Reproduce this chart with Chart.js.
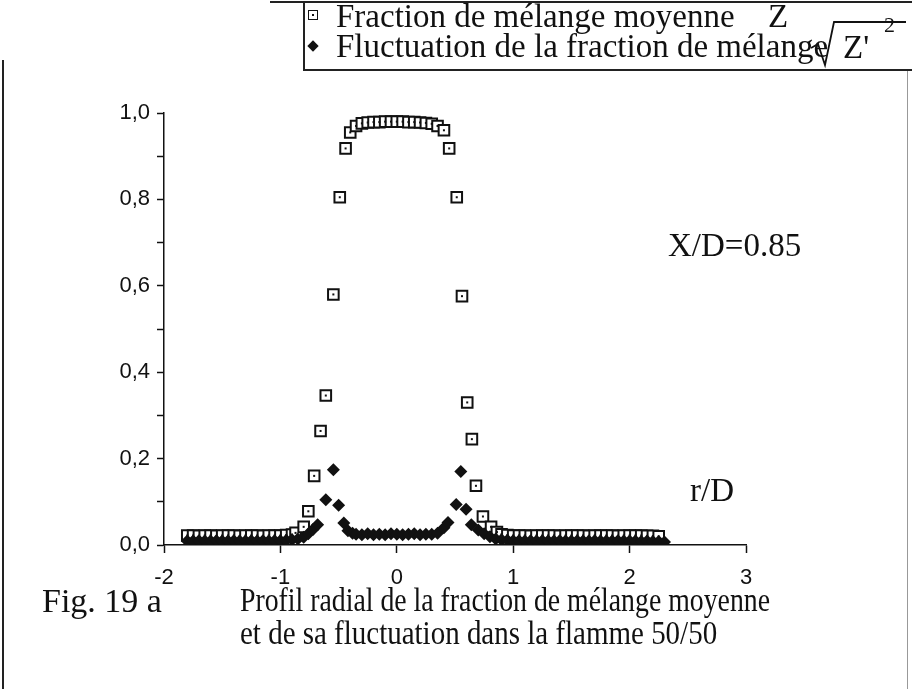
<!DOCTYPE html>
<html>
<head>
<meta charset="utf-8">
<script src="https://cdn.jsdelivr.net/npm/chart.js@4.4.1/dist/chart.umd.min.js"></script>
<style>
html, body { margin: 0; padding: 0; background: #fff; }
#wrap { position: relative; width: 912px; height: 689px; overflow: hidden;
        font-family: "Liberation Serif", "Times New Roman", serif; color: #111; }
#c { position: absolute; left: 0; top: 0; }
.t { position: absolute; white-space: nowrap; font-size: 33px; line-height: 1; }
.ln { position: absolute; background: #222; }
.sq { position: absolute; width: 8px; height: 8px; border: 1.8px solid #111; background: #fff; }
.sq:after { content: ""; position: absolute; left: 3px; top: 3px; width: 2px; height: 2px; background: #111; }
.dm { position: absolute; width: 8px; height: 8px; background: #111; transform: rotate(45deg); }
</style>
</head>
<body>
<div id="wrap">
  <canvas id="c" width="912" height="689"></canvas>

  <!-- frame and legend box -->
  <div class="ln" style="left:270px;top:1px;width:642px;height:2px"></div>
  <div class="ln" style="left:303px;top:1px;width:2px;height:70px"></div>
  <div class="ln" style="left:303px;top:69px;width:609px;height:2px"></div>
  <div class="ln" style="left:2px;top:60px;width:2px;height:629px"></div>
  <div class="ln" style="left:907px;top:71px;width:1px;height:618px;background:#999"></div>

  <!-- legend -->
  <div class="sq" style="left:308px;top:10px"></div>
  <div class="t" style="left:336px;top:0px">Fraction de mélange moyenne</div>
  <div class="t" style="left:768px;top:0px">Z</div>
  <div class="dm" style="left:309px;top:42px"></div>
  <div class="t" style="left:336px;top:30px">Fluctuation de la fraction de mélange</div>
  <svg style="position:absolute;left:0;top:0" width="912" height="80">
    <polyline points="811,48 818,44 825,65 834,22 906,22" fill="none" stroke="#111" stroke-width="1.8"/>
  </svg>
  <div class="t" style="left:843px;top:31px">Z'</div>
  <div class="t" style="left:884px;top:14px;font-size:22px">2</div>

  <!-- annotations -->
  <div class="t" style="left:668px;top:229px">X/D=0.85</div>
  <div class="t" style="left:690px;top:474px">r/D</div>

  <!-- caption -->
  <div class="t" style="left:42px;top:584px;font-size:34px">Fig. 19 a</div>
  <div class="t" style="left:240px;top:584px;transform:scaleX(0.842);transform-origin:0 0">Profil radial de la fraction de mélange moyenne</div>
  <div class="t" style="left:240px;top:617px;transform:scaleX(0.878);transform-origin:0 0">et de sa fluctuation dans la flamme 50/50</div>
</div>

<script>
// mean mixture fraction Z (open squares)
var zX = [-1.80, -1.75, -1.70, -1.65, -1.60, -1.55, -1.50, -1.45, -1.40, -1.35,
          -1.30, -1.25, -1.20, -1.15, -1.10, -1.05, -1.00, -0.95, -0.90,
          -0.87, -0.80, -0.76, -0.71, -0.655, -0.61, -0.545, -0.49, -0.44, -0.40, -0.35,
          -0.30, -0.25, -0.20, -0.15, -0.10, -0.05, 0.00, 0.05, 0.10, 0.15, 0.20, 0.25, 0.30,
          0.35, 0.405, 0.45, 0.515, 0.56, 0.605, 0.645, 0.68, 0.74, 0.81, 0.86,
          0.90, 0.95, 1.00, 1.05, 1.10, 1.15, 1.20, 1.25, 1.30, 1.35, 1.40, 1.45, 1.50, 1.55,
          1.60, 1.65, 1.70, 1.75, 1.80, 1.85, 1.90, 1.95, 2.00, 2.05, 2.10, 2.15, 2.20, 2.25];
var zY = [0.022, 0.022, 0.021, 0.022, 0.022, 0.021, 0.022, 0.022, 0.022, 0.021,
          0.022, 0.022, 0.022, 0.021, 0.022, 0.022, 0.022, 0.023, 0.024,
          0.028, 0.042, 0.078, 0.160, 0.264, 0.346, 0.580, 0.805, 0.918, 0.955, 0.970,
          0.976, 0.978, 0.979, 0.979, 0.980, 0.980, 0.980, 0.980, 0.979, 0.979, 0.978, 0.977, 0.975,
          0.970, 0.960, 0.918, 0.805, 0.576, 0.330, 0.245, 0.137, 0.066, 0.042, 0.030,
          0.025, 0.023, 0.022, 0.022, 0.022, 0.021, 0.022, 0.022, 0.022, 0.022, 0.021, 0.022, 0.022, 0.022,
          0.022, 0.021, 0.022, 0.022, 0.022, 0.022, 0.021, 0.022, 0.022, 0.022, 0.022, 0.021, 0.021, 0.020];

// rms fluctuation of Z (filled diamonds)
var fX = [-1.80, -1.75, -1.70, -1.65, -1.60, -1.55, -1.50, -1.45, -1.40, -1.35,
          -1.30, -1.25, -1.20, -1.15, -1.10, -1.05, -1.00, -0.95, -0.90,
          -0.85, -0.80, -0.76, -0.72, -0.68, -0.61, -0.545, -0.50, -0.455, -0.42, -0.38,
          -0.35, -0.30, -0.25, -0.20, -0.15, -0.10, -0.05, 0.00, 0.05, 0.10, 0.15, 0.20, 0.25, 0.30, 0.35,
          0.405, 0.44, 0.51, 0.55, 0.595, 0.64, 0.70, 0.75, 0.80, 0.85,
          0.90, 0.95, 1.00, 1.05, 1.10, 1.15, 1.20, 1.25, 1.30, 1.35, 1.40, 1.45, 1.50, 1.55,
          1.60, 1.65, 1.70, 1.75, 1.80, 1.85, 1.90, 1.95, 2.00, 2.05, 2.10, 2.15, 2.20, 2.25, 2.30];
var fY = [0.009, 0.009, 0.010, 0.009, 0.009, 0.010, 0.009, 0.009, 0.010, 0.009,
          0.009, 0.010, 0.009, 0.010, 0.009, 0.010, 0.010, 0.011, 0.012,
          0.014, 0.018, 0.026, 0.036, 0.047, 0.105, 0.174, 0.092, 0.051, 0.033, 0.027,
          0.025, 0.024, 0.026, 0.024, 0.025, 0.024, 0.026, 0.025, 0.024, 0.025, 0.026, 0.024, 0.025, 0.025, 0.027,
          0.040, 0.052, 0.094, 0.170, 0.083, 0.047, 0.035, 0.026, 0.019, 0.014,
          0.012, 0.011, 0.010, 0.010, 0.009, 0.010, 0.009, 0.010, 0.009, 0.009, 0.010, 0.009, 0.009, 0.010,
          0.009, 0.009, 0.010, 0.009, 0.009, 0.009, 0.010, 0.009, 0.009, 0.009, 0.008, 0.009, 0.008, 0.008, 0.007];

var yTicks = ['0,0', '0,2', '0,4', '0,6', '0,8', '1,0'];

function toPoints(xs, ys) {
  return xs.map(function (x, i) { return { x: x, y: ys[i] }; });
}

// little dot in the middle of each open square, like the original symbol
var centreDots = {
  id: 'centreDots',
  afterDatasetsDraw: function (chart) {
    var meta = chart.getDatasetMeta(1);
    var c = chart.ctx;
    c.save();
    c.fillStyle = '#111';
    meta.data.forEach(function (p) { c.fillRect(p.x - 1, p.y - 1, 2, 2); });
    c.restore();
  }
};

var ctx = document.getElementById('c');
var myChart = new Chart(ctx, {
  type: 'scatter',
  data: {
    datasets: [{
      label: 'Fluctuation de la fraction de mélange',
      data: toPoints(fX, fY),
      pointStyle: 'rectRot',
      pointRadius: 6.5,
      backgroundColor: '#111',
      borderColor: '#111',
      borderWidth: 0
    }, {
      label: 'Fraction de mélange moyenne Z',
      data: toPoints(zX, zY),
      pointStyle: 'rect',
      pointRadius: 7.5,
      backgroundColor: '#fff',
      borderColor: '#111',
      borderWidth: 2
    }]
  },
  options: {
    responsive: false,
    animation: false,
    layout: { padding: { left: 104, right: 166, top: 113, bottom: 104 } },
    plugins: { legend: { display: false }, tooltip: { enabled: false } },
    scales: {
      x: {
        type: 'linear', min: -2, max: 3,
        afterFit: function (s) { s.height = 40; },
        ticks: { stepSize: 1, color: '#111', padding: 12,
                 font: { family: 'Liberation Sans', size: 22 } },
        grid: { drawOnChartArea: false, tickLength: 8, tickColor: '#111', tickWidth: 1.5 },
        border: { color: '#111', width: 1.5 }
      },
      y: {
        min: 0, max: 1,
        afterFit: function (s) { s.width = 60; },
        ticks: {
          stepSize: 0.1, color: '#111', padding: 7,
          font: { family: 'Liberation Sans', size: 22 },
          callback: function (v) {
            var k = Math.round(v * 10);
            return k % 2 === 0 ? yTicks[k / 2] : '';
          }
        },
        grid: { drawOnChartArea: false, tickLength: 7, tickColor: '#111', tickWidth: 1.5 },
        border: { color: '#111', width: 1.5 }
      }
    }
  },
  plugins: [centreDots]
});
</script>
</body>
</html>
